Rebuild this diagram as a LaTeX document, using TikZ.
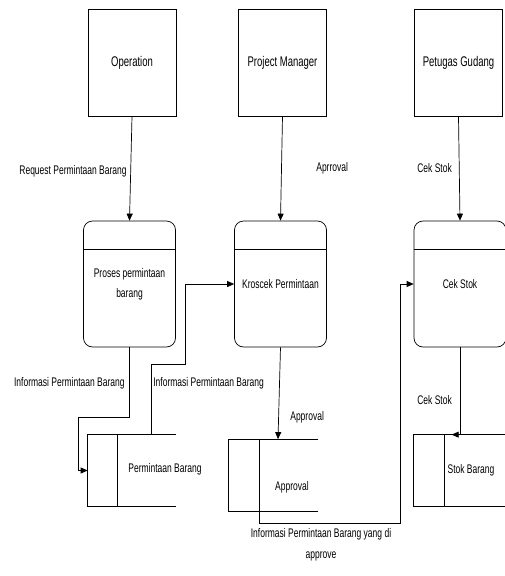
\documentclass[tikz,border=0pt]{standalone}
\usepackage{fontspec}
\setmainfont[FakeStretch=0.68]{Liberation Sans}
\usepackage{tikz}
\usetikzlibrary{arrows.meta}
\usetikzlibrary{calc}

\begin{document}
\begin{tikzpicture}[x=1pt, y=-1pt, line width=0.7pt, >={Triangle[length=7pt,width=6pt]},
        entity_style/.style={rectangle,draw,minimum width=88pt,minimum height=107pt,font=\fontsize{14}{16}\selectfont},
        process_style/.style={rectangle,draw,rounded corners=9pt,minimum width=92pt,minimum height=126pt,align=center,font=\fontsize{12.5}{20}\selectfont,
            path picture={\draw ([yshift=-28pt]path picture bounding box.north west) -- ([yshift=-28pt]path picture bounding box.north east);}},
        store_style/.style={rectangle,inner sep=0pt,minimum height=71pt},
        label_style/.style={font=\fontsize{12.5}{21}\selectfont,inner sep=1pt},
        edge_style/.style={draw=black, ->}]

        \useasboundingbox (0,0) rectangle (505,576);

        \node [entity_style](op) at (132,62.5) {Operation};

        \node [entity_style](pm) at (282.5,62.5) {Project Manager};

        \node [entity_style](pg) at (458.5,62.5) {Petugas Gudang};

        \node [process_style](p1) at (129.5,284) {Proses permintaan\\barang};

        \node [process_style](p2) at (280.5,284) {Kroscek Permintaan};

        \node [process_style](p3) at (460,284) {Cek Stok};

        \node [store_style,minimum width=88pt](s1) at (132,470.5) {};

        \node [store_style,minimum width=89pt](s2) at (273.5,475) {};

        \node [store_style,minimum width=91pt](s3) at (459.5,470.5) {};

        \draw (s1.north east) -- (s1.north west) -- (s1.south west) -- (s1.south east);
        \draw ([xshift=30pt]s1.north west) -- ([xshift=30pt]s1.south west);
        \draw (s2.north east) -- (s2.north west) -- (s2.south west) -- (s2.south east);
        \draw ([xshift=31pt]s2.north west) -- ([xshift=31pt]s2.south west);
        \draw (s3.north east) -- (s3.north west) -- (s3.south west) -- (s3.south east);
        \draw ([xshift=31pt]s3.north west) -- ([xshift=31pt]s3.south west);

        \node [label_style](t1) at (165,469) {Permintaan Barang};

        \node [label_style](t2) at (292,487) {Approval};

        \node [label_style](t3) at (471,470) {Stok Barang};

        % arus data
        \draw [edge_style] (op.south) -- (p1.north);
        \node [label_style,anchor=east](l1) at (128,171) {Request Permintaan Barang};

        \draw [edge_style] (pm.south) -- (p2.north);
        \node [label_style,anchor=west](l2) at (315,168) {Aprroval};

        \draw [edge_style] (pg.south) -- (p3.north);
        \node [label_style,anchor=west](l3) at (416,168) {Cek Stok};

        \draw [edge_style] (p1.south) |- (78,417) |- (s1.west);
        \node [label_style,anchor=east](l4) at (126,383) {Informasi Permintaan Barang};

        \draw [edge_style] ([xshift=19pt]s1.north) |- (185,364) |- (p2.west);
        \node [label_style,anchor=west](l5) at (152,383) {Informasi Permintaan Barang};

        \draw [edge_style] (p2.south) -- ([xshift=4.5pt]s2.north);
        \node [label_style,anchor=west](l6) at (289,417) {Approval};

        \draw [edge_style] ([xshift=31pt]s2.south west) |- (400,523) |- (p3.west);
        \node [label_style,align=center](l7) at (321,545) {Informasi Permintaan Barang yang di\\approve};

        \draw [edge_style] (p3.south) |- ([xshift=38pt]s3.north west);
        \node [label_style,anchor=west](l8) at (416,400) {Cek Stok};

\end{tikzpicture}
\end{document}
